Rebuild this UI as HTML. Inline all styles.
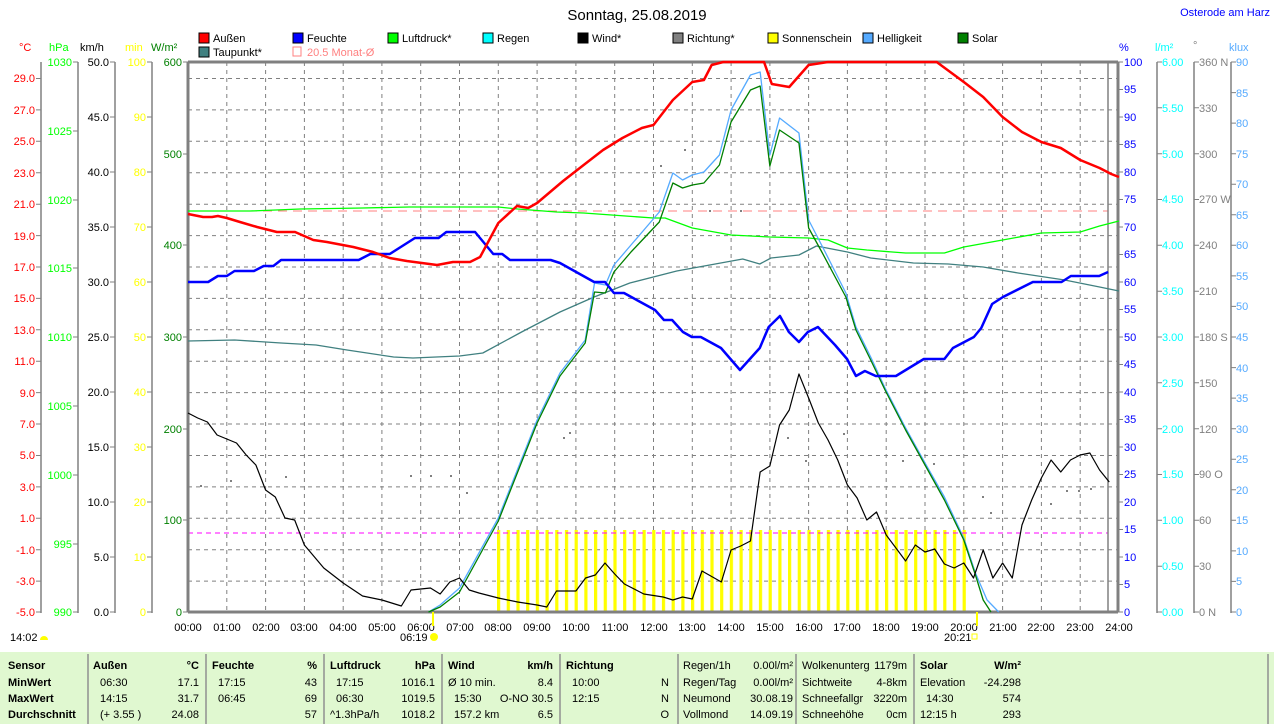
<!DOCTYPE html>
<html><head><meta charset="utf-8"><style>
html,body{margin:0;padding:0;background:#fff;width:1274px;height:724px;overflow:hidden}
svg{display:block;font-family:"Liberation Sans",Arial,sans-serif;font-size:11px}
</style></head><body>
<svg width="1274" height="724" viewBox="0 0 1274 724" xmlns="http://www.w3.org/2000/svg">
<defs>
<pattern id="sun" x="497" y="0" width="9.7" height="10" patternUnits="userSpaceOnUse"><rect x="0" y="0" width="3.2" height="10" fill="#ffff00"/></pattern>
</defs>
<text x="637" y="20" font-size="15" text-anchor="middle" fill="#000">Sonntag, 25.08.2019</text>
<text x="1270" y="16" text-anchor="end" fill="#0000ff">Osterode am Harz</text>
<!-- legend -->
<g font-size="11">
<rect x="199" y="33" width="10" height="10" fill="#ff0000" stroke="#000"/><text x="213" y="42">Außen</text>
<rect x="293" y="33" width="10" height="10" fill="#0000ff" stroke="#000"/><text x="307" y="42">Feuchte</text>
<rect x="388" y="33" width="10" height="10" fill="#00ff00" stroke="#000"/><text x="402" y="42">Luftdruck*</text>
<rect x="483" y="33" width="10" height="10" fill="#00ffff" stroke="#000"/><text x="497" y="42">Regen</text>
<rect x="578" y="33" width="10" height="10" fill="#000" stroke="#000"/><text x="592" y="42">Wind*</text>
<rect x="673" y="33" width="10" height="10" fill="#808080" stroke="#000"/><text x="687" y="42">Richtung*</text>
<rect x="768" y="33" width="10" height="10" fill="#ffff00" stroke="#000"/><text x="782" y="42">Sonnenschein</text>
<rect x="863" y="33" width="10" height="10" fill="#55aaff" stroke="#000"/><text x="877" y="42">Helligkeit</text>
<rect x="958" y="33" width="10" height="10" fill="#008000" stroke="#000"/><text x="972" y="42">Solar</text>
<rect x="199" y="47" width="10" height="10" fill="#408080" stroke="#000"/><text x="213" y="56">Taupunkt*</text>
<rect x="293" y="47" width="8" height="9" fill="none" stroke="#ff8080"/><text x="307" y="56" fill="#ff8080">20.5 Monat-Ø</text>
</g>
<!-- axis headers -->
<text x="19" y="51" fill="#ff0000">°C</text>
<text x="49" y="51" fill="#00ff00">hPa</text>
<text x="80" y="51" fill="#000">km/h</text>
<text x="125" y="51" fill="#ffff00">min</text>
<text x="151" y="51" fill="#008000">W/m²</text>
<text x="1119" y="51" fill="#0000ff">%</text>
<text x="1155" y="51" fill="#00ffff">l/m²</text>
<text x="1193" y="49" fill="#808080">°</text>
<text x="1229" y="51" fill="#55aaff">klux</text>
<!-- left axes lines -->
<g stroke="#808080" stroke-width="1.5">
<line x1="41" y1="62" x2="41" y2="613"/><line x1="78" y1="62" x2="78" y2="613"/>
<line x1="115" y1="62" x2="115" y2="613"/><line x1="152" y1="62" x2="152" y2="613"/>
<line x1="1157" y1="62" x2="1157" y2="613"/><line x1="1194" y1="62" x2="1194" y2="613"/><line x1="1231" y1="62" x2="1231" y2="613"/>
</g>
<!-- °C -->
<g fill="#ff0000" text-anchor="end">
<text x="35" y="82">29.0</text><text x="35" y="114">27.0</text><text x="35" y="145">25.0</text><text x="35" y="177">23.0</text><text x="35" y="208">21.0</text><text x="35" y="240">19.0</text><text x="35" y="271">17.0</text><text x="35" y="302">15.0</text><text x="35" y="334">13.0</text><text x="35" y="365">11.0</text><text x="35" y="397">9.0</text><text x="35" y="428">7.0</text><text x="35" y="459">5.0</text><text x="35" y="491">3.0</text><text x="35" y="522">1.0</text><text x="35" y="554">-1.0</text><text x="35" y="585">-3.0</text><text x="35" y="616">-5.0</text>
</g>
<g stroke="#808080"><path d="M36 78.5h5M36 109.9h5M36 141.3h5M36 172.7h5M36 204.2h5M36 235.6h5M36 267h5M36 298.4h5M36 329.8h5M36 361.2h5M36 392.6h5M36 424h5M36 455.5h5M36 486.9h5M36 518.3h5M36 549.7h5M36 581.1h5M36 612h5"/>
<path d="M73 62h5M73 131h5M73 200h5M73 268h5M73 337h5M73 406h5M73 475h5M73 544h5M73 612h5"/>
<path d="M110 62h5M110 117h5M110 172h5M110 227h5M110 282h5M110 337h5M110 392h5M110 447h5M110 502h5M110 557h5M110 612h5"/>
<path d="M147 62h5M147 117h5M147 172h5M147 227h5M147 282h5M147 337h5M147 392h5M147 447h5M147 502h5M147 557h5M147 612h5"/>
<path d="M183 62h5M183 154h5M183 245h5M183 337h5M183 429h5M183 520h5M183 612h5"/>
</g>
<g fill="#00ff00" text-anchor="end">
<text x="72" y="66">1030</text><text x="72" y="135">1025</text><text x="72" y="204">1020</text><text x="72" y="272">1015</text><text x="72" y="341">1010</text><text x="72" y="410">1005</text><text x="72" y="479">1000</text><text x="72" y="548">995</text><text x="72" y="616">990</text>
</g>
<g fill="#000" text-anchor="end">
<text x="109" y="66">50.0</text><text x="109" y="121">45.0</text><text x="109" y="176">40.0</text><text x="109" y="231">35.0</text><text x="109" y="286">30.0</text><text x="109" y="341">25.0</text><text x="109" y="396">20.0</text><text x="109" y="451">15.0</text><text x="109" y="506">10.0</text><text x="109" y="561">5.0</text><text x="109" y="616">0.0</text>
</g>
<g fill="#ffff00" text-anchor="end">
<text x="146" y="66">100</text><text x="146" y="121">90</text><text x="146" y="176">80</text><text x="146" y="231">70</text><text x="146" y="286">60</text><text x="146" y="341">50</text><text x="146" y="396">40</text><text x="146" y="451">30</text><text x="146" y="506">20</text><text x="146" y="561">10</text><text x="146" y="616">0</text>
</g>
<g fill="#008000" text-anchor="end">
<text x="182" y="66">600</text><text x="182" y="158">500</text><text x="182" y="249">400</text><text x="182" y="341">300</text><text x="182" y="433">200</text><text x="182" y="524">100</text><text x="182" y="616">0</text>
</g>
<!-- right axes -->
<g stroke="#808080"><path d="M1118 62h5M1118 89.5h5M1118 117h5M1118 144.5h5M1118 172h5M1118 199.5h5M1118 227h5M1118 254.5h5M1118 282h5M1118 309.5h5M1118 337h5M1118 364.5h5M1118 392h5M1118 419.5h5M1118 447h5M1118 474.5h5M1118 502h5M1118 529.5h5M1118 557h5M1118 584.5h5M1118 612h5"/>
<path d="M1157 62h5M1157 107.8h5M1157 153.7h5M1157 199.5h5M1157 245.3h5M1157 291.2h5M1157 337h5M1157 382.8h5M1157 428.7h5M1157 474.5h5M1157 520.3h5M1157 566.2h5M1157 612h5"/>
<path d="M1194 62h5M1194 107.8h5M1194 153.7h5M1194 199.5h5M1194 245.3h5M1194 291.2h5M1194 337h5M1194 382.8h5M1194 428.7h5M1194 474.5h5M1194 520.3h5M1194 566.2h5M1194 612h5"/>
<path d="M1231 62h5M1231 92.6h5M1231 123.1h5M1231 153.7h5M1231 184.2h5M1231 214.8h5M1231 245.3h5M1231 275.9h5M1231 306.4h5M1231 337h5M1231 367.6h5M1231 398.1h5M1231 428.7h5M1231 459.2h5M1231 489.8h5M1231 520.3h5M1231 550.9h5M1231 581.4h5M1231 612h5"/>
</g>
<g fill="#0000ff">
<text x="1124" y="66">100</text><text x="1124" y="93">95</text><text x="1124" y="121">90</text><text x="1124" y="148">85</text><text x="1124" y="176">80</text><text x="1124" y="203">75</text><text x="1124" y="231">70</text><text x="1124" y="258">65</text><text x="1124" y="286">60</text><text x="1124" y="313">55</text><text x="1124" y="341">50</text><text x="1124" y="368">45</text><text x="1124" y="396">40</text><text x="1124" y="423">35</text><text x="1124" y="451">30</text><text x="1124" y="478">25</text><text x="1124" y="506">20</text><text x="1124" y="533">15</text><text x="1124" y="561">10</text><text x="1124" y="588">5</text><text x="1124" y="616">0</text>
</g>
<g fill="#00ffff">
<text x="1162" y="66">6.00</text><text x="1162" y="112">5.50</text><text x="1162" y="158">5.00</text><text x="1162" y="203">4.50</text><text x="1162" y="249">4.00</text><text x="1162" y="295">3.50</text><text x="1162" y="341">3.00</text><text x="1162" y="387">2.50</text><text x="1162" y="433">2.00</text><text x="1162" y="478">1.50</text><text x="1162" y="524">1.00</text><text x="1162" y="570">0.50</text><text x="1162" y="616">0.00</text>
</g>
<g fill="#808080">
<text x="1199" y="66">360 N</text><text x="1199" y="112">330</text><text x="1199" y="158">300</text><text x="1199" y="203">270 W</text><text x="1199" y="249">240</text><text x="1199" y="295">210</text><text x="1199" y="341">180 S</text><text x="1199" y="387">150</text><text x="1199" y="433">120</text><text x="1199" y="478">90 O</text><text x="1199" y="524">60</text><text x="1199" y="570">30</text><text x="1199" y="616">0 N</text>
</g>
<g fill="#55aaff">
<text x="1236" y="66">90</text><text x="1236" y="97">85</text><text x="1236" y="127">80</text><text x="1236" y="158">75</text><text x="1236" y="188">70</text><text x="1236" y="219">65</text><text x="1236" y="249">60</text><text x="1236" y="280">55</text><text x="1236" y="310">50</text><text x="1236" y="341">45</text><text x="1236" y="372">40</text><text x="1236" y="402">35</text><text x="1236" y="433">30</text><text x="1236" y="463">25</text><text x="1236" y="494">20</text><text x="1236" y="524">15</text><text x="1236" y="555">10</text><text x="1236" y="585">5</text><text x="1236" y="616">0</text>
</g>
<!-- grid -->
<g stroke="#808080" stroke-dasharray="4,4" stroke-width="1">
<path d="M188 78.5H1118M188 109.9H1118M188 141.3H1118M188 172.7H1118M188 204.2H1118M188 235.6H1118M188 267H1118M188 298.4H1118M188 329.8H1118M188 361.2H1118M188 392.6H1118M188 424H1118M188 455.5H1118M188 486.9H1118M188 518.3H1118M188 549.7H1118M188 581.1H1118"/>
<path d="M226.8 62V612M265.6 62V612M304.4 62V612M343.2 62V612M381.9 62V612M420.7 62V612M459.5 62V612M498.3 62V612M537.1 62V612M575.9 62V612M614.7 62V612M653.5 62V612M692.3 62V612M731.1 62V612M769.9 62V612M808.6 62V612M847.4 62V612M886.2 62V612M925 62V612M963.8 62V612M1002.6 62V612M1041.4 62V612M1080.2 62V612"/>
</g>
<!-- sunshine bars -->
<rect x="497" y="530" width="470" height="82" fill="url(#sun)"/>
<line x1="188" y1="533" x2="1108" y2="533" stroke="#ff00ff" stroke-dasharray="5,4"/>
<line x1="188" y1="211" x2="1108" y2="211" stroke="#ff8080" stroke-dasharray="9,6"/>
<!-- frame -->
<line x1="188" y1="62" x2="1118" y2="62" stroke="#808080" stroke-width="3"/>
<line x1="188" y1="612" x2="1118" y2="612" stroke="#808080" stroke-width="3"/>
<line x1="188" y1="62" x2="188" y2="612" stroke="#808080" stroke-width="3"/>
<line x1="1118" y1="62" x2="1118" y2="612" stroke="#808080" stroke-width="3"/>
<line x1="1108" y1="62" x2="1108" y2="612" stroke="#808080" stroke-width="1.5"/>
<!-- series -->
<g transform="translate(188,0) scale(38.79,1)" fill="none" stroke-linejoin="round">
<polyline vector-effect="non-scaling-stroke" stroke="#408080" stroke-width="1.3" points="0,341 1.2,340 2.4,343 3.3,345 4.1,350 5.3,357 5.8,358 7,356 7.6,353 8.6,332 9.59,312 10.47,297 11.39,283 12.6,271 14.3,259 14.74,264 15.03,258 15.75,255 16.2,246 17,252 17.6,258 18.7,263 19.6,264 20.5,267 21.4,273 22.6,280 23.5,287 24,291"/>
<polyline vector-effect="non-scaling-stroke" stroke="#00ff00" stroke-width="1.3" points="0,211 1.6,211 2.9,209 4.5,208 5.7,207 8,207 8.5,209 9.5,212 10.2,213 12,218 12.3,218 13,228 14,235 15,237 16,238 16.5,240 17,248 17.5,250 18.5,253 19.5,253 20,247 21,240 22,233 23,232 23.5,226 24,221"/>
<polyline vector-effect="non-scaling-stroke" stroke="#55aaff" stroke-width="1.3" points="6.2,612 6.5,605 7,588 8,518 9,420 9.59,373 10.24,340 10.48,283 10.76,285 10.98,265 11.42,245 12.15,212 12.5,173 12.75,180 13.0,175 13.3,172 13.7,155 14.0,110 14.5,75 14.75,72 15.0,155 15.25,118 15.75,133 16.0,220 16.4,250 16.96,293 17.22,327 17.6,357 17.97,388 18.5,428 19,463 19.5,497 20,538 20.3,573 20.6,600 20.9,612"/>
<polyline vector-effect="non-scaling-stroke" stroke="#008000" stroke-width="1.3" points="6.2,612 6.5,607 7,592 8,521 9,423 9.59,376 10.24,343 10.48,292 10.76,293 10.98,272 11.42,252 12.15,222 12.5,183 12.75,188 13.0,185 13.3,183 13.7,165 14.0,122 14.5,90 14.75,86 15.0,166 15.25,130 15.75,143 16.0,228 16.34,252 16.96,297 17.22,330 17.6,360 17.97,390 18.5,430 19,465 19.5,500 20,540 20.3,575 20.5,600 20.7,612"/>
<polyline vector-effect="non-scaling-stroke" stroke="#000" stroke-width="1.2" points="0,413 0.25,418 0.5,422 0.75,435 1.25,443 1.5,455 1.75,465 2,490 2.25,497 2.5,518 2.75,520 3,545 3.5,568 4,583 4.5,596 5,600 5.5,606 5.75,590 6,589 6.25,588 6.5,594 6.75,582 7,578 7.25,590 7.5,593 8,598 8.5,602 9,605 9.25,607 9.5,591 10,591 10.25,578 10.5,575 10.75,563 11,574 11.25,584 11.75,594 12.25,597 12.5,600 12.75,597 13,599 13.25,571 13.75,582 14,550 14.25,546 14.5,541 14.75,472 15,466 15.25,425 15.5,410 15.75,374 16,398 16.25,423 16.5,440 16.75,460 17,485 17.25,498 17.5,520 17.75,512 18,535 18.25,548 18.5,561 18.75,545 19,552 19.25,549 19.5,564 19.75,568 20,563 20.25,578 20.5,550 20.75,578 21,563 21.25,578 21.5,525 21.75,500 22,478 22.25,460 22.5,472 22.75,460 23,455 23.25,453 23.5,470 23.75,482"/>
<polyline vector-effect="non-scaling-stroke" stroke="#0000ff" stroke-width="2.5" points="0,282 0.52,282 0.77,276 1,276 1.2,271 1.7,271 1.95,266 2.2,266 2.4,260 4.4,260 4.7,254 5.2,254 5.85,238 6.46,238 6.66,232 7.4,232 7.87,254 8.1,254 8.3,260 9.35,260 9.59,263 10.47,282 10.75,282 10.98,293 11.24,293 12.04,310 12.27,320 12.48,320 12.76,332 12.99,337 13.22,337 13.74,348 14.23,370 14.74,348 14.97,327 15.26,316 15.49,332 15.75,342 15.98,332 16.24,327 16.68,345 16.99,359 17.22,376 17.45,371 17.73,376 18.25,376 18.97,359 19.5,359 19.72,348 20.26,337 20.45,328 20.73,304 21.01,297 21.78,282 22.52,282 22.76,276 23.49,276 23.72,272"/>
<polyline vector-effect="non-scaling-stroke" stroke="#ff0000" stroke-width="2.5" points="0,214 0.39,217 0.62,217 0.77,216 1,218 1.34,222 1.78,227 2.29,232 2.76,232 3.23,240 3.58,242 4.26,247 4.77,252 5.2,258 5.64,261 6.42,265 6.83,262 7.27,262 7.53,257 8,223 8.48,206 8.77,208 9,203 9.67,181 10.2,165 10.7,150 11.2,138 11.7,128 12,125 12.5,100 13,82 13.3,80 13.5,65 13.8,62 14.6,62 14.85,62 15.05,84 15.5,87 16,65 16.5,62 19.3,62 20,82 20.5,97 21,117 21.5,132 22,142 22.5,148 23,160 23.5,168 23.8,174 24,177"/>
</g>
<!-- a few direction dots -->
<g fill="#808080">
<rect x="563" y="437" width="2" height="2"/><rect x="569" y="432" width="2" height="2"/><rect x="660" y="165" width="2" height="2"/><rect x="684" y="149" width="2" height="2"/><rect x="709" y="210" width="2" height="2"/><rect x="740" y="210" width="2" height="2"/><rect x="787" y="437" width="2" height="2"/><rect x="805" y="460" width="2" height="2"/><rect x="843" y="433" width="2" height="2"/><rect x="902" y="460" width="2" height="2"/><rect x="933" y="463" width="2" height="2"/><rect x="982" y="496" width="2" height="2"/><rect x="990" y="512" width="2" height="2"/><rect x="1050" y="503" width="2" height="2"/><rect x="1066" y="490" width="2" height="2"/><rect x="1078" y="490" width="2" height="2"/><rect x="1090" y="488" width="2" height="2"/><rect x="200" y="485" width="2" height="2"/><rect x="230" y="480" width="2" height="2"/><rect x="285" y="476" width="2" height="2"/><rect x="410" y="475" width="2" height="2"/><rect x="430" y="475" width="2" height="2"/><rect x="450" y="475" width="2" height="2"/><rect x="466" y="492" width="2" height="2"/>
</g>
<!-- x labels -->
<g fill="#000" text-anchor="middle">
<text x="188" y="631">00:00</text><text x="227" y="631">01:00</text><text x="266" y="631">02:00</text><text x="304" y="631">03:00</text><text x="343" y="631">04:00</text><text x="382" y="631">05:00</text><text x="421" y="631">06:00</text><text x="460" y="631">07:00</text><text x="498" y="631">08:00</text><text x="537" y="631">09:00</text><text x="576" y="631">10:00</text><text x="615" y="631">11:00</text><text x="654" y="631">12:00</text><text x="692" y="631">13:00</text><text x="731" y="631">14:00</text><text x="770" y="631">15:00</text><text x="809" y="631">16:00</text><text x="847" y="631">17:00</text><text x="886" y="631">18:00</text><text x="925" y="631">19:00</text><text x="964" y="631">20:00</text><text x="1003" y="631">21:00</text><text x="1041" y="631">22:00</text><text x="1080" y="631">23:00</text><text x="1119" y="631">24:00</text>
</g>
<rect x="432" y="612" width="2" height="14" fill="#ffff00"/>
<rect x="976" y="612" width="2" height="14" fill="#ffff00"/>
<text x="400" y="641">06:19</text><circle cx="434" cy="637" r="4" fill="#ffff00"/>
<text x="944" y="641">20:21</text><rect x="972" y="634" width="5" height="5" fill="none" stroke="#ffff00"/>
<text x="10" y="641">14:02</text><path d="M40 640a4 4 0 0 1 8 0z" fill="#ffff00"/>
<!-- table -->
<rect x="0" y="652" width="1274" height="72" fill="#e0f8d0"/>
<g stroke="#909090" stroke-width="1.5"><path d="M88 654V724M206 654V724M324 654V724M442 654V724M560 654V724M678 654V724M796 654V724M914 654V724M1268 654V724"/></g>
<g font-weight="bold">
<text x="8" y="669">Sensor</text><text x="8" y="686">MinWert</text><text x="8" y="702">MaxWert</text><text x="8" y="718">Durchschnitt</text>
<text x="93" y="669">Außen</text><text x="199" y="669" text-anchor="end">°C</text>
<text x="212" y="669">Feuchte</text><text x="317" y="669" text-anchor="end">%</text>
<text x="330" y="669">Luftdruck</text><text x="435" y="669" text-anchor="end">hPa</text>
<text x="448" y="669">Wind</text><text x="553" y="669" text-anchor="end">km/h</text>
<text x="566" y="669">Richtung</text>
<text x="920" y="669">Solar</text><text x="1021" y="669" text-anchor="end">W/m²</text>
</g>
<g>
<text x="100" y="686">06:30</text><text x="199" y="686" text-anchor="end">17.1</text>
<text x="100" y="702">14:15</text><text x="199" y="702" text-anchor="end">31.7</text>
<text x="100" y="718">(+ 3.55 )</text><text x="199" y="718" text-anchor="end">24.08</text>
<text x="218" y="686">17:15</text><text x="317" y="686" text-anchor="end">43</text>
<text x="218" y="702">06:45</text><text x="317" y="702" text-anchor="end">69</text>
<text x="317" y="718" text-anchor="end">57</text>
<text x="336" y="686">17:15</text><text x="435" y="686" text-anchor="end">1016.1</text>
<text x="336" y="702">06:30</text><text x="435" y="702" text-anchor="end">1019.5</text>
<text x="330" y="718">^1.3hPa/h</text><text x="435" y="718" text-anchor="end">1018.2</text>
<text x="448" y="686">Ø 10 min.</text><text x="553" y="686" text-anchor="end">8.4</text>
<text x="454" y="702">15:30</text><text x="553" y="702" text-anchor="end">O-NO 30.5</text>
<text x="454" y="718">157.2 km</text><text x="553" y="718" text-anchor="end">6.5</text>
<text x="572" y="686">10:00</text><text x="572" y="702">12:15</text>
<text x="669" y="686" text-anchor="end">N</text><text x="669" y="702" text-anchor="end">N</text><text x="669" y="718" text-anchor="end">O</text>
<text x="683" y="669">Regen/1h</text><text x="793" y="669" text-anchor="end">0.00l/m²</text>
<text x="683" y="686">Regen/Tag</text><text x="793" y="686" text-anchor="end">0.00l/m²</text>
<text x="683" y="702">Neumond</text><text x="793" y="702" text-anchor="end">30.08.19</text>
<text x="683" y="718">Vollmond</text><text x="793" y="718" text-anchor="end">14.09.19</text>
<text x="802" y="669">Wolkenunterg</text><text x="907" y="669" text-anchor="end">1179m</text>
<text x="802" y="686">Sichtweite</text><text x="907" y="686" text-anchor="end">4-8km</text>
<text x="802" y="702">Schneefallgr</text><text x="907" y="702" text-anchor="end">3220m</text>
<text x="802" y="718">Schneehöhe</text><text x="907" y="718" text-anchor="end">0cm</text>
<text x="920" y="686">Elevation</text><text x="1021" y="686" text-anchor="end">-24.298</text>
<text x="926" y="702">14:30</text><text x="1021" y="702" text-anchor="end">574</text>
<text x="920" y="718">12:15 h</text><text x="1021" y="718" text-anchor="end">293</text>
</g>
</svg>
</body></html>
